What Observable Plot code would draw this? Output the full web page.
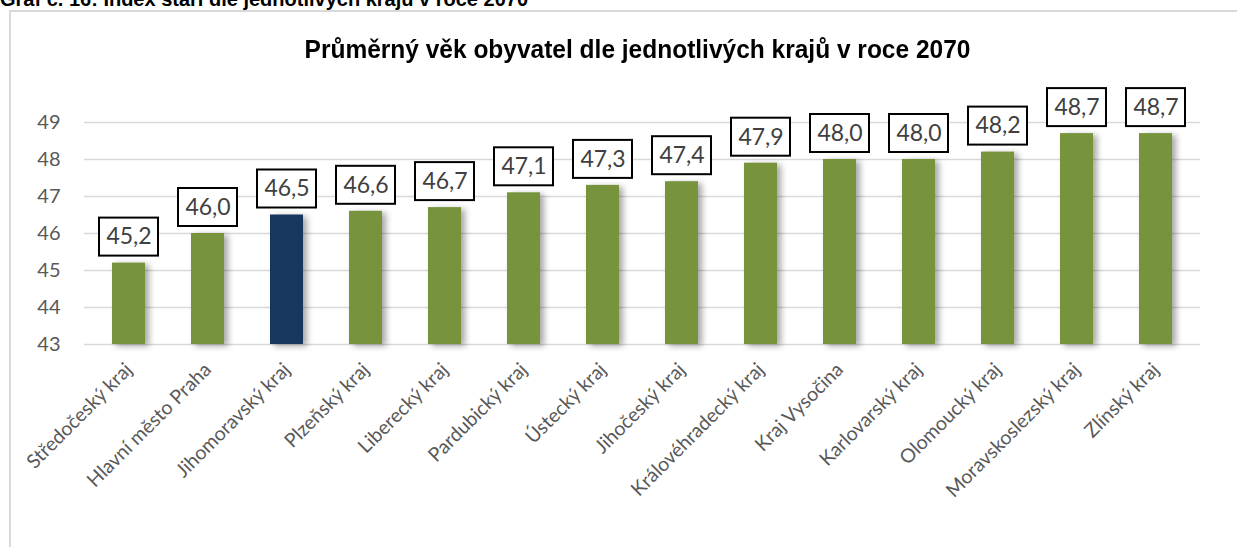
<!DOCTYPE html>
<html>
<head>
<meta charset="utf-8">
<script src="https://cdn.jsdelivr.net/npm/d3@7"></script>
<script src="https://cdn.jsdelivr.net/npm/@observablehq/plot@0.6"></script>
<style>
  html, body { margin: 0; padding: 0; background: #fff; }
  #page { position: relative; width: 1237px; height: 547px; overflow: hidden; }
  #caption { position: absolute; left: 0; top: -12px; font: bold 20px "Liberation Sans", sans-serif; color: #000; white-space: nowrap; }
  #frame { position: absolute; left: 9px; top: 10px; width: 1400px; height: 700px; border: 2px solid #d9d9d9; box-sizing: border-box; }
  #title { position: absolute; left: 0; width: 1275px; top: 35px; text-align: center; font: bold 25px "Liberation Sans", sans-serif; color: #000; white-space: nowrap; transform: scaleX(0.98); transform-origin: 637px 0; }
  #chart { position: absolute; left: 0; top: 0; }
</style>
</head>
<body>
<div id="page">
  <div id="caption">Graf č. 16: Index stáří dle jednotlivých krajů v roce 2070</div>
  <div id="frame"></div>
  <div id="title">Průměrný věk obyvatel dle jednotlivých krajů v roce 2070</div>
  <div id="chart"></div>
</div>
<script>
const regions = [
  "Středočeský kraj", "Hlavní město Praha", "Jihomoravský kraj", "Plzeňský kraj",
  "Liberecký kraj", "Pardubický kraj", "Ústecký kraj", "Jihočeský kraj",
  "Královéhradecký kraj", "Kraj Vysočina", "Karlovarský kraj", "Olomoucký kraj",
  "Moravskoslezský kraj", "Zlínský kraj"
];
const averageAge = [45.2, 46.0, 46.5, 46.6, 46.7, 47.1, 47.3, 47.4, 47.9, 48.0, 48.0, 48.2, 48.7, 48.7];
const highlighted = ["Jihomoravský kraj"];
const yTicks = [43, 44, 45, 46, 47, 48, 49];

const data = regions.map((r, i) => ({
  region: r,
  value: averageAge[i],
  label: averageAge[i].toFixed(1).replace(".", ","),
  highlight: highlighted.includes(r)
}));

const chart = Plot.plot({
  width: 1237,
  height: 547,
  marginLeft: 84,
  marginRight: 37,
  marginTop: 122,
  marginBottom: 203,
  style: { background: "transparent", fontFamily: "Lato, sans-serif", overflow: "visible" },
  x: { domain: regions, paddingInner: 0.585, paddingOuter: 0.29, label: null },
  y: { domain: [43, 49], label: null },
  marks: [
    Plot.ruleY(yTicks, { stroke: "#d9d9d9", strokeWidth: 1.5 }),
    Plot.barY(data, {
      x: "region", y1: 43, y2: "value",
      fill: d => d.highlight ? "#17375e" : "#77933c",
      imageFilter: "drop-shadow(4px 2px 3px rgba(0,0,0,0.35))"
    }),
    Plot.barY(data, {
      x: "region", y1: "value", y2: "value",
      insetTop: -45, insetBottom: 7, insetLeft: -13, insetRight: -13,
      fill: "white", stroke: "black", strokeWidth: 2
    }),
    Plot.text(data, {
      x: "region", y: "value", dy: -26, text: "label",
      fontSize: 23, fill: "#404040"
    }),
    Plot.axisY({ ticks: yTicks, tickFormat: d => String(d), tickSize: 0, tickPadding: 24, fontSize: 20, fill: "#595959", label: null }),
    Plot.axisX({ tickRotate: -45, tickSize: 0, tickPadding: 22, fontSize: 19.5, fill: "#595959", label: null })
  ]
});
document.getElementById("chart").appendChild(chart);
</script>
</body>
</html>
